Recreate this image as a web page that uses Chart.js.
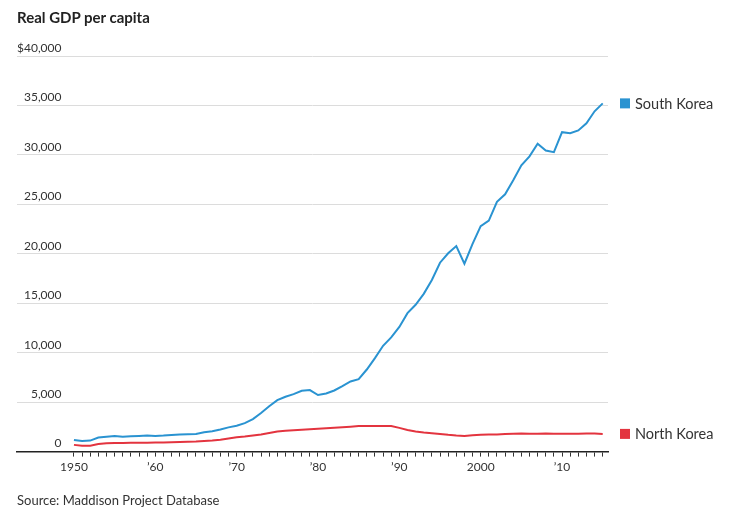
<!DOCTYPE html>
<html>
<head>
<meta charset="utf-8">
<title>Real GDP per capita</title>
<script src="https://cdn.jsdelivr.net/npm/chart.js@4.4.1/dist/chart.umd.min.js"></script>
<style>
  body { margin: 0; background: #fff; }
  #wrap { position: relative; width: 731px; height: 519px; font-family: Lato, 'Noto Sans', sans-serif; }
  #chart { position: absolute; left: 0; top: 0; }
  .title { position: absolute; left: 17px; top: 10px; font-size: 15px; line-height: 15px; font-weight: bold; color: #222; white-space: nowrap; }
  .source { position: absolute; left: 17px; top: 494px; font-size: 13px; line-height: 13px; color: #333; white-space: nowrap; }
</style>
</head>
<body>
<div id="wrap">
  <canvas id="chart" width="731" height="519"></canvas>
  <div class="title">Real GDP per capita</div>
  <div class="source">Source: Maddison Project Database</div>
</div>
<script>
// Data
const years = [];
for (let y = 1950; y <= 2015; y++) years.push(y);

const southKorea = [
  1180, 1080, 1110, 1420, 1500, 1580, 1490, 1550, 1580, 1620,
  1590, 1620, 1670, 1720, 1760, 1790, 1950, 2050, 2230, 2450,
  2620, 2880, 3280, 3900, 4580, 5200, 5550, 5810, 6150, 6220,
  5720, 5880, 6180, 6620, 7090, 7320, 8300, 9450, 10700, 11550,
  12600, 14000, 14850, 15950, 17350, 19100, 20050, 20780, 19000, 21000,
  22800, 23350, 25250, 26020, 27430, 28940, 29850, 31130, 30450, 30280,
  32300, 32200, 32470, 33200, 34410, 35210
];

const northKorea = [
  680, 580, 590, 760, 840, 870, 880, 890, 900, 900,
  910, 920, 940, 960, 990, 1020, 1080, 1120, 1210, 1330,
  1450, 1530, 1630, 1740, 1880, 2030, 2110, 2160, 2220, 2270,
  2320, 2370, 2410, 2460, 2520, 2590, 2600, 2600, 2600, 2590,
  2400, 2180, 2030, 1930, 1860, 1790, 1700, 1630, 1590, 1660,
  1700, 1720, 1740, 1770, 1800, 1840, 1810, 1800, 1830, 1810,
  1800, 1800, 1810, 1820, 1820, 1790
];

const seriesNames = ['South Korea', 'North Korea'];
const seriesColors = ['#2a93d1', '#e3343f'];
const yTicks = [0, 5000, 10000, 15000, 20000, 25000, 30000, 35000, 40000];

const FONT = "Lato, 'Noto Sans', sans-serif";
const TEXT = '#333';

// Helpers
const toPoints = (values) => values.map((v, i) => ({ x: years[i], y: v }));

function yearLabel(yr) {
  if (yr % 10 !== 0) return '';
  if (yr === 1950 || yr === 2000) return String(yr);
  return '\u2019' + String(yr).slice(2);
}

function yLabel(v) {
  if (v === 40000) return '$40,000';
  return v.toLocaleString('en-US');
}

// Series labels at the end of each line
const endLabels = {
  id: 'endLabels',
  afterDatasetsDraw(chart) {
    const ctx = chart.ctx;
    ctx.save();
    ctx.font = '14.5px ' + FONT;
    ctx.textBaseline = 'middle';
    ctx.textAlign = 'left';
    chart.data.datasets.forEach((ds, i) => {
      const meta = chart.getDatasetMeta(i);
      const last = meta.data[meta.data.length - 1];
      if (!last) return;
      const y = last.y;
      const x = chart.chartArea.right + 12;
      ctx.fillStyle = ds.borderColor;
      ctx.fillRect(x, y - 5, 10, 10);
      ctx.fillStyle = TEXT;
      ctx.fillText(ds.label, x + 15, y + 0.5);
    });
    ctx.restore();
  }
};

new Chart(document.getElementById('chart'), {
  type: 'line',
  data: {
    datasets: [
      { label: seriesNames[0], data: toPoints(southKorea), borderColor: seriesColors[0] },
      { label: seriesNames[1], data: toPoints(northKorea), borderColor: seriesColors[1] }
    ]
  },
  options: {
    responsive: false,
    animation: false,
    layout: { padding: { left: 17, right: 123, top: 56, bottom: 42 } },
    elements: {
      line: { borderWidth: 2, tension: 0, fill: false },
      point: { radius: 0, hoverRadius: 0 }
    },
    plugins: {
      legend: { display: false },
      tooltip: { enabled: false }
    },
    scales: {
      x: {
        type: 'linear',
        min: 1943,
        max: 2015.65,
        afterBuildTicks(scale) {
          scale.ticks = years.map(v => ({ value: v }));
        },
        grid: { drawOnChartArea: false, drawTicks: true, tickLength: 5, color: '#333', lineWidth: 1 },
        border: { display: true, color: '#222', width: 1.5 },
        ticks: {
          autoSkip: false,
          maxRotation: 0,
          padding: 3,
          color: TEXT,
          font: { family: FONT, size: 12 },
          callback: (v) => yearLabel(v)
        }
      },
      y: {
        min: 0,
        max: 40000,
        afterBuildTicks(scale) {
          scale.ticks = yTicks.map(v => ({ value: v }));
        },
        grid: {
          drawTicks: false,
          color: (c) => c.tick && c.tick.value === 0 ? 'rgba(0,0,0,0)' : '#dcdcdc',
          lineWidth: 1
        },
        border: { display: false },
        ticks: {
          mirror: true,
          crossAlign: 'far',
          padding: 0,
          labelOffset: -8,
          color: TEXT,
          font: { family: FONT, size: 12 },
          callback: (v) => yLabel(v)
        }
      }
    }
  },
  plugins: [endLabels]
});
</script>
</body>
</html>
